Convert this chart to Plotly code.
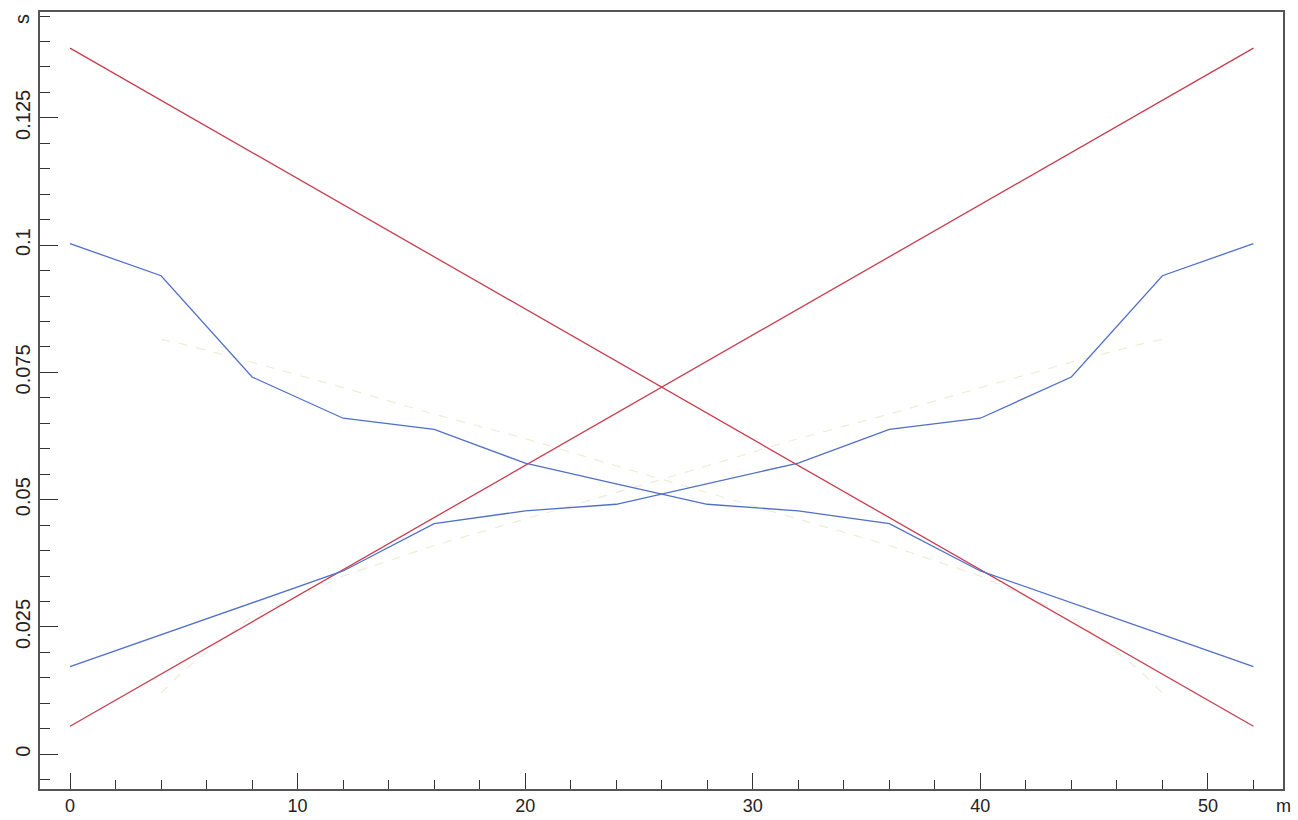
import plotly.graph_objects as go

# Data
x_blue = [0, 4, 8, 12, 16, 20, 24, 28, 32, 36, 40, 44, 48, 52]
blue_down = [0.1003, 0.0940, 0.0741, 0.0660, 0.0638, 0.0572, 0.0531, 0.0491,
             0.0478, 0.0453, 0.0360, 0.0298, 0.0235, 0.0172]
blue_up = blue_down[::-1]

x_red = [0, 52]
red_down = [0.1387, 0.0055]
red_up = [0.0055, 0.1387]

x_faint = [4, 5, 8, 12, 16, 20, 26, 32, 36, 40, 44, 47, 48]
faint_up = [0.0120, 0.0165, 0.0270, 0.0350, 0.0410, 0.0462, 0.0540, 0.0620,
            0.0668, 0.0720, 0.0770, 0.0805, 0.0815]
faint_down = faint_up[::-1]
x_faint_down = [52 - v for v in x_faint[::-1]]

x_ticks = [0, 10, 20, 30, 40, 50]
y_ticks = [0, 0.025, 0.05, 0.075, 0.1, 0.125]
y_tick_labels = ["0", "0.025", "0.05", "0.075", "0.1", "0.125"]

RED = "#c83c4e"
BLUE = "#5070c6"
FAINT = "#eeecd8"

fig = go.Figure()
fig.add_trace(go.Scatter(x=x_faint, y=faint_up, mode="lines",
                         line=dict(color=FAINT, width=1.2, dash="dash")))
fig.add_trace(go.Scatter(x=x_faint_down, y=faint_down, mode="lines",
                         line=dict(color=FAINT, width=1.2, dash="dash")))
fig.add_trace(go.Scatter(x=x_red, y=red_down, mode="lines",
                         line=dict(color=RED, width=1.3)))
fig.add_trace(go.Scatter(x=x_red, y=red_up, mode="lines",
                         line=dict(color=RED, width=1.3)))
fig.add_trace(go.Scatter(x=x_blue, y=blue_down, mode="lines",
                         line=dict(color=BLUE, width=1.3)))
fig.add_trace(go.Scatter(x=x_blue, y=blue_up, mode="lines",
                         line=dict(color=BLUE, width=1.3)))

FAM = "Liberation Sans, Arial, sans-serif"

fig.update_layout(
    width=1298, height=820,
    margin=dict(l=40, r=15, t=12, b=31),
    paper_bgcolor="white", plot_bgcolor="white",
    showlegend=False,
    xaxis=dict(
        range=[-1.32, 53.3], tickvals=x_ticks, ticks="inside", ticklen=16,
        tickcolor="#333", tickwidth=1.2, automargin=False,
        minor=dict(dtick=2, tick0=0, ticks="inside", ticklen=9, tickcolor="#333", tickwidth=1),
        showgrid=False, zeroline=False, showline=True, mirror=True,
        linecolor="#555", linewidth=1.5,
        tickfont=dict(family=FAM, size=18, color="#222"),
    ),
    yaxis=dict(
        range=[-0.00683, 0.1458], tickvals=y_ticks, ticktext=y_tick_labels,
        ticks="inside", ticklen=18, tickcolor="#333", tickwidth=1.2, automargin=False,
        minor=dict(dtick=0.005, tick0=0, ticks="inside", ticklen=10, tickcolor="#333", tickwidth=1),
        showgrid=False, zeroline=False, showline=True, mirror=True,
        linecolor="#555", linewidth=1.5, tickangle=-90,
        tickfont=dict(family=FAM, size=20, color="#222"),
    ),
    annotations=[
        dict(text="s", xref="paper", yref="paper", x=-0.0145, y=1.0, xanchor="center",
             yanchor="top", showarrow=False, textangle=-90,
             font=dict(family=FAM, size=20, color="#222")),
        dict(text="m", xref="paper", yref="paper", x=1.0, y=-0.006, xanchor="center",
             yanchor="top", showarrow=False,
             font=dict(family=FAM, size=18, color="#222")),
    ],
)

fig.write_html("out.html")
